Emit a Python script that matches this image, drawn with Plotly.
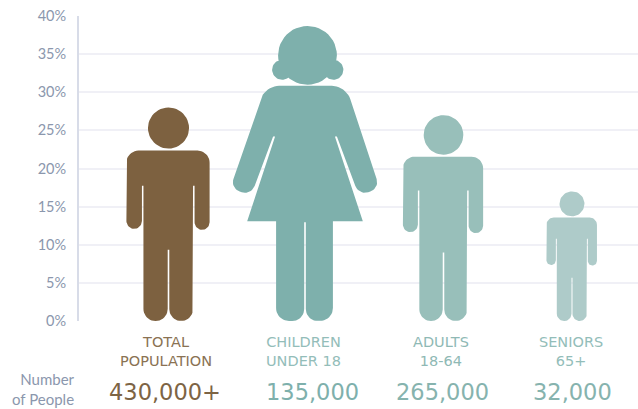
import math
import plotly.graph_objects as go

# Chart data
groups = ["TOTAL<br>POPULATION", "CHILDREN<br>UNDER 18", "ADULTS<br>18-64", "SENIORS<br>65+"]
shares = [28, 38.7, 27, 17]
people = ["430,000+", "135,000", "265,000", "32,000"]
y_ticks = [0, 5, 10, 15, 20, 25, 30, 35, 40]

# Presentation
fills = ["#7d6140", "#7eb0ac", "#98bfba", "#aecbc9"]
label_colors = ["#8a7253", "#93bdb9", "#8fb9b5", "#93bdb9"]
number_colors = ["#7d6444", "#7eb0ac", "#86b3ae", "#86b3ae"]
centers = [168.5, 305, 443.5, 572]
kinds = ["man", "woman", "man", "man"]
PLOT_LEFT, PLOT_RIGHT = 79, 638
PLOT_TOP, PLOT_BOTTOM = 16, 321
PX_PER_UNIT = (PLOT_BOTTOM - PLOT_TOP) / 40
LABEL_X = [166, 303, 441, 571]
NUMBER_X = [165, 312, 442, 572]


def row(py):
    """Paper coordinate of a pixel row under the plot area."""
    return (PLOT_BOTTOM - py) / (PLOT_BOTTOM - PLOT_TOP)


def column(px):
    """Paper coordinate of a pixel column."""
    return (px - PLOT_LEFT) / (PLOT_RIGHT - PLOT_LEFT)


def rounded(vertices, steps=10):
    """Closed outline from (x, y, radius) corners, with each corner rounded."""
    out = []
    n = len(vertices)
    for i, (x, y, r) in enumerate(vertices):
        if r == 0:
            out.append((x, y))
            continue
        px, py, _ = vertices[i - 1]
        nx, ny, _ = vertices[(i + 1) % n]
        d0 = math.hypot(px - x, py - y)
        d1 = math.hypot(nx - x, ny - y)
        a = (x + (px - x) / d0 * r, y + (py - y) / d0 * r)
        b = (x + (nx - x) / d1 * r, y + (ny - y) / d1 * r)
        k = 0.55
        c1 = (a[0] + (x - a[0]) * k, a[1] + (y - a[1]) * k)
        c2 = (b[0] + (x - b[0]) * k, b[1] + (y - b[1]) * k)
        for s in range(steps + 1):
            t = s / steps
            u = 1 - t
            out.append((
                u**3 * a[0] + 3 * u**2 * t * c1[0] + 3 * u * t**2 * c2[0] + t**3 * b[0],
                u**3 * a[1] + 3 * u**2 * t * c1[1] + 3 * u * t**2 * c2[1] + t**3 * b[1],
            ))
    return out


def circle(cx, cy, r, steps=48):
    return [(cx + r * math.cos(-2 * math.pi * i / steps),
             cy + r * math.sin(-2 * math.pi * i / steps)) for i in range(steps + 1)]


MAN = {
    "height": 213,
    "parts": [
        rounded([
            (-25, 0, 12), (-25, 135, 0), (-26.5, 135, 0), (-26.5, 92, 7.7), (-42, 92, 7.7),
            (-42, 170, 12), (41, 170, 12), (41, 91, 7.5), (26, 91, 7.5), (26, 135, 0),
            (24.5, 135, 0), (24.5, 0, 12), (0.8, 0, 11.8), (0.8, 71, 0), (-0.8, 71, 0), (-0.8, 0, 12),
        ]),
        circle(0, 192.5, 20.5),
    ],
}

WOMAN = {
    "height": 296,
    "parts": [
        rounded([
            (-29, 0, 13), (-29, 100, 0), (-58, 100, 0), (-30, 185, 0), (-32, 185, 0),
            (-54, 126, 10), (-75, 133, 10), (-40, 236, 14), (41, 236, 14),
            (75, 133, 10), (54, 126, 10), (32, 185, 0), (30, 185, 0), (58, 100, 0),
            (28, 100, 0), (28, 0, 13), (0.8, 0, 12), (0.8, 99, 0), (-0.8, 99, 0), (-0.8, 0, 12),
        ]),
        circle(2.5, 266.5, 29.5),
        circle(-23, 252, 10),
        circle(28.5, 252, 10),
    ],
}

SILHOUETTES = {"man": MAN, "woman": WOMAN}

fig = go.Figure()

# Each figure is scaled so its height on the value axis equals its share
for name, value, color, cx, kind in zip(groups, shares, fills, centers, kinds):
    shape = SILHOUETTES[kind]
    scale = value / shape["height"]
    xs, ys = [], []
    for part in shape["parts"]:
        for x, y in part:
            xs.append(cx + x * scale * PX_PER_UNIT)
            ys.append(y * scale)
        xs.append(None)
        ys.append(None)
    fig.add_trace(go.Scatter(
        x=xs, y=ys, mode="lines", fill="toself", fillcolor=color,
        line=dict(width=0, color=color), name=name.replace("<br>", " "),
        hoverinfo="name", showlegend=False,
    ))

annotations = []
for i, group in enumerate(groups):
    annotations.append(dict(
        x=column(LABEL_X[i]), y=row(351), xref="paper", yref="paper",
        xanchor="center", yanchor="middle",
        text=group, showarrow=False, align="center",
        font=dict(family="DejaVu Sans", size=14.5, color=label_colors[i]),
    ))
    annotations.append(dict(
        x=column(NUMBER_X[i]), y=row(392), xref="paper", yref="paper",
        xanchor="center", yanchor="middle",
        text=people[i], showarrow=False,
        font=dict(family="DejaVu Sans", size=22.5, color=number_colors[i]),
    ))

annotations.append(dict(
    x=column(77), y=row(389), xref="paper", yref="paper", xanchor="right", yanchor="middle",
    text="Number<br>of People", showarrow=False, align="right",
    font=dict(family="Lato", size=15, color="#8b97ad"),
))

fig.update_layout(
    width=638, height=409,
    margin=dict(l=PLOT_LEFT, r=0, t=PLOT_TOP, b=409 - PLOT_BOTTOM),
    paper_bgcolor="white", plot_bgcolor="white",
    showlegend=False,
    annotations=annotations,
    xaxis=dict(range=[PLOT_LEFT, PLOT_RIGHT], visible=False),
    yaxis=dict(
        range=[0, 40], tickvals=y_ticks, ticktext=[f"{v}%" for v in y_ticks],
        showgrid=True, gridcolor="#f0f0f6", gridwidth=2, zeroline=False,
        showline=True, linecolor="#d8dce8", linewidth=2,
        ticks="outside", ticklen=8, tickcolor="rgba(0,0,0,0)",
        tickfont=dict(family="Lato", size=14.5, color="#8b97ad"),
    ),
)

fig.write_html("out.html")
